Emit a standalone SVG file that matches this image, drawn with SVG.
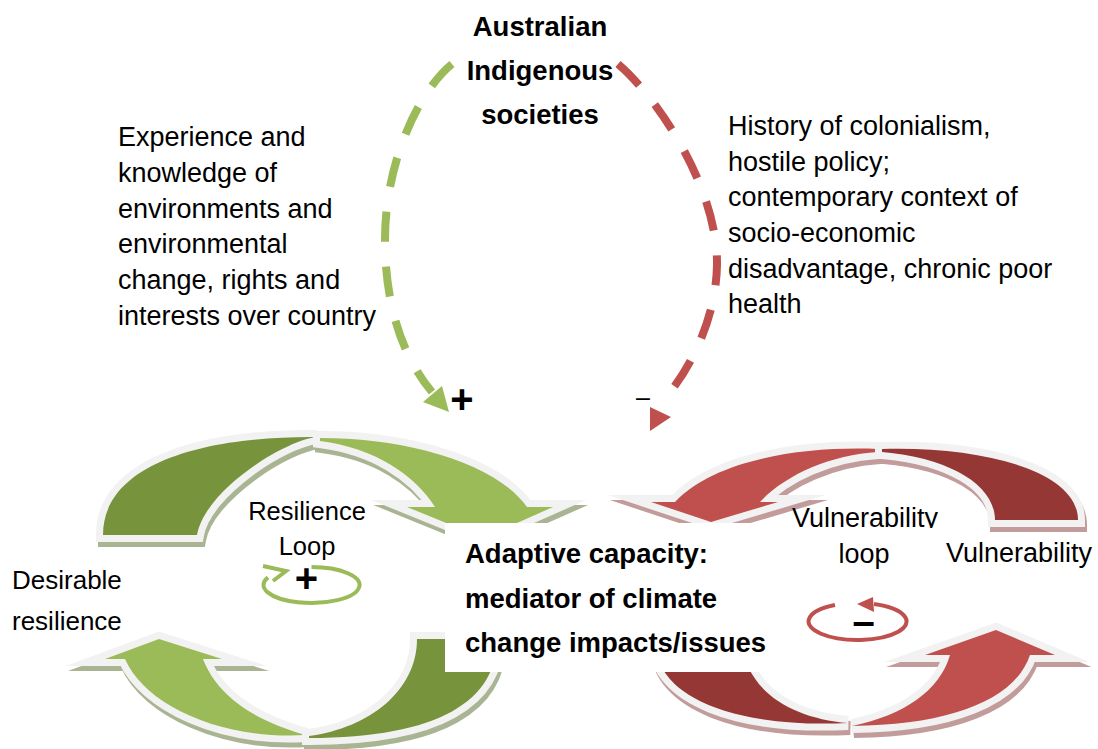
<svg xmlns="http://www.w3.org/2000/svg" width="1098" height="749" viewBox="0 0 1098 749">
<style>
text{font-family:"Liberation Sans",Arial,sans-serif;fill:#000}
.t{font-size:27px}
.b{font-size:27.5px;font-weight:bold}
.ol{stroke:#F2F2F2;stroke-width:14;stroke-linejoin:miter;stroke-miterlimit:8;paint-order:stroke}
.shg{fill:#A9B592;stroke:#A9B592;stroke-width:14;stroke-miterlimit:8}
.shr{fill:#C29C9B;stroke:#C29C9B;stroke-width:14;stroke-miterlimit:8}
.lg{fill:#9BBB59}.dg{fill:#77933C}.lr{fill:#C0504D}.dr{fill:#953735}
.dash{fill:none;stroke-width:8;stroke-dasharray:30 25}
.icon{fill:none;stroke-width:4}
</style>
<defs>
<path id="gUL" d="M103,535 C103,465 200,436 317,437 C285,440 205,490 197,535 Z"/>
<path id="gUR" d="M320,438 C405,438 495,462 527,507 L553,507 L483,538 L407,507 L435,507 C415,475 375,448 320,441 Z"/>
<path id="gLL" d="M159,639 L222,659 L203,659 C215,690 245,718 306,735 C220,740 145,705 125,659 L105,659 Z"/>
<path id="gLR" d="M309,736 C370,728 417,690 417,639 L497,639 C497,700 440,738 309,738 Z"/>
<path id="rUL" d="M878,449 C800,446 715,460 675,502 L651,502 L711,522 L778,502 L760,502 C785,475 830,455 878,452 Z"/>
<path id="rUR" d="M882,449 C980,446 1078,470 1078,520 L995,520 C995,485 950,458 882,452 Z"/>
<path id="rLL" d="M655,640 L742,640 C745,690 790,718 848,723 C740,728 655,700 655,640 Z"/>
<path id="rLR" d="M996,630 L1055,655 L1030,655 C1015,700 950,725 852,726 C905,715 940,690 950,655 L925,655 Z"/>
<clipPath id="vclip"><rect x="760" y="480" width="220" height="48"/></clipPath>
</defs>

<g id="resilience-loop">
<use href="#gUL" class="shg" transform="translate(2,5)"/>
<use href="#gUR" class="shg" transform="translate(2,5)"/>
<use href="#gLL" class="shg" transform="translate(2,5)"/>
<use href="#gLR" class="shg" transform="translate(2,5)"/>
<use href="#gUL" class="ol dg"/>
<use href="#gUR" class="ol lg"/>
<use href="#gLL" class="ol lg"/>
<use href="#gLR" class="ol dg"/>
</g>

<g id="vulnerability-loop">
<use href="#rUL" class="shr" transform="translate(2,5)"/>
<use href="#rUR" class="shr" transform="translate(2,5)"/>
<use href="#rLL" class="shr" transform="translate(2,5)"/>
<use href="#rLR" class="shr" transform="translate(2,5)"/>
<use href="#rUL" class="ol lr"/>
<use href="#rUR" class="ol dr"/>
<use href="#rLL" class="ol dr"/>
<use href="#rLR" class="ol lr"/>
</g>

<g id="adaptive-capacity">
<rect x="445" y="523" width="335" height="149" fill="#FFFFFF"/>
<text class="b" x="465" y="563">Adaptive capacity:</text>
<text class="b" x="465" y="607.5">mediator of climate</text>
<text class="b" x="465" y="652">change impacts/issues</text>
</g>

<g id="connectors">
<path class="dash" stroke="#9BBB59" d="M452,64 C420,90 385,160 385,240 C385,310 405,360 432,392"/>
<polygon fill="#9BBB59" points="423,402 442,386 449,412"/>
<path class="dash" stroke="#C0504D" d="M618,64 C660,100 718,190 717,265 C716,320 690,370 662,402"/>
<polygon fill="#C0504D" points="650,407 650,431 671,417"/>
<text x="462" y="413" font-size="40" font-weight="bold" text-anchor="middle">+</text>
<text x="643" y="406" font-size="25" text-anchor="middle">–</text>
</g>

<g id="australian-indigenous-societies">
<text class="b" x="540" y="36" text-anchor="middle">Australian</text>
<text class="b" x="540" y="80" text-anchor="middle">Indigenous</text>
<text class="b" x="540" y="124" text-anchor="middle">societies</text>
</g>

<g id="experience-text">
<text class="t" x="118" y="146">Experience and</text>
<text class="t" x="118" y="182">knowledge of</text>
<text class="t" x="118" y="218">environments and</text>
<text class="t" x="118" y="253">environmental</text>
<text class="t" x="118" y="289">change, rights and</text>
<text class="t" x="118" y="325">interests over country</text>
</g>

<g id="history-text">
<text class="t" x="728" y="135">History of colonialism,</text>
<text class="t" x="728" y="171">hostile policy;</text>
<text class="t" x="728" y="206">contemporary context of</text>
<text class="t" x="728" y="242">socio-economic</text>
<text class="t" x="728" y="278">disadvantage, chronic poor</text>
<text class="t" x="728" y="313">health</text>
</g>

<g id="desirable-resilience">
<text x="12" y="589" font-size="26">Desirable</text>
<text x="12" y="630" font-size="26">resilience</text>
</g>

<g id="resilience-loop-label">
<text x="307" y="520" font-size="25.5" text-anchor="middle">Resilience</text>
<text x="307" y="555" font-size="25.5" text-anchor="middle">Loop</text>
<path class="icon" stroke="#9BBB59" d="M311.5,567 A48,18 0 1 1 268,577.4"/>
<polyline class="icon" stroke="#9BBB59" points="263,566 286,571 273,581"/>
<text x="306.5" y="592" font-size="40" font-weight="bold" text-anchor="middle">+</text>
</g>

<g id="vulnerability-loop-label">
<text class="t" x="865" y="527" text-anchor="middle" clip-path="url(#vclip)">Vulnerability</text>
<text class="t" x="864" y="563" text-anchor="middle">loop</text>
<path class="icon" stroke="#C0504D" d="M835,605 A49,18.5 0 1 0 874,604"/>
<polygon fill="#C0504D" points="857,604 873,597 874,612"/>
<text x="863.5" y="635" font-size="40" font-weight="bold" text-anchor="middle">–</text>
</g>

<g id="vulnerability">
<text class="t" x="946" y="562">Vulnerability</text>
</g>
</svg>
